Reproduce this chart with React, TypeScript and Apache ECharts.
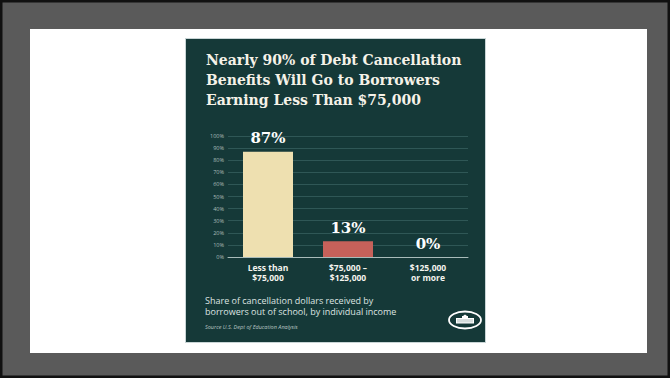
import React, { useEffect, useRef } from "react";
import * as echarts from "echarts";

const categories = ["Less than\n$75,000", "$75,000 –\n$125,000", "$125,000\nor more"];
const shares = [87, 13, 0];
const barColors = ["#eee0b0", "#c6615a", "#c6615a"];
const yTicks = [0, 10, 20, 30, 40, 50, 60, 70, 80, 90, 100];
const titleLines = [
  "Nearly 90% of Debt Cancellation",
  "Benefits Will Go to Borrowers",
  "Earning Less Than $75,000",
];
const subtitleLines = [
  "Share of cancellation dollars received by",
  "borrowers out of school, by individual income",
];
const sourceText = "Source U.S. Dept of Education Analysis";

export default function App() {
  const ref = useRef<HTMLDivElement>(null);
  useEffect(() => {
    if (!ref.current) return;
    const chart = echarts.init(ref.current, null, { renderer: "svg" });
    const sans = "'Open Sans', 'Noto Sans', sans-serif";
    const serif = "'DejaVu Serif', 'Liberation Serif', serif";
    const graphics: any[] = [
      { type: "rect", z: -100, shape: { x: 1, y: 1, width: 668, height: 376 }, style: { fill: "#5a5a5a", stroke: "#111", lineWidth: 3 } },
      { type: "rect", z: -99, shape: { x: 30, y: 29, width: 617, height: 324 }, style: { fill: "#ffffff" } },
      { type: "rect", z: -98, shape: { x: 185.5, y: 38.5, width: 300, height: 304 }, style: { fill: "#153938", stroke: "#c9d5d6", lineWidth: 1 } },
    ];
    titleLines.forEach((t, i) => {
      graphics.push({
        type: "text", z: 10, x: 206, y: 67 + i * 20,
        style: { text: t, fill: "#f5f2e8", font: `bold 14px ${serif}`, textVerticalAlign: "bottom" },
      });
    });
    subtitleLines.forEach((t, i) => {
      graphics.push({
        type: "text", z: 10, x: 205, y: 300 + i * 11.5,
        style: { text: t, fill: "#dde3e1", font: `9px ${sans}`, textVerticalAlign: "middle" },
      });
    });
    graphics.push({
      type: "text", z: 10, x: 205, y: 327,
      style: { text: sourceText, fill: "#b9c6c4", font: `italic 5.5px ${sans}`, textVerticalAlign: "middle" },
    });
    // White House logo
    graphics.push({
      type: "group", z: 10, x: 465, y: 320,
      children: [
        { type: "ellipse", shape: { cx: 0, cy: 0, rx: 16, ry: 8.5 }, style: { fill: "none", stroke: "#ffffff", lineWidth: 1.8 } },
        { type: "rect", shape: { x: -9, y: -2, width: 18, height: 5.5 }, style: { fill: "#ffffff" } },
        { type: "rect", shape: { x: -3, y: -4, width: 6, height: 2 }, style: { fill: "#ffffff" } },
        { type: "polygon", shape: { points: [[-2, -4], [0, -5.5], [2, -4]] }, style: { fill: "#ffffff" } },
        ...[-7, -5, -3, -1, 1, 3, 5, 7].map((cx) => ({
          type: "rect", shape: { x: cx - 0.35, y: -1, width: 0.7, height: 3.5 }, style: { fill: "#8aa09e" },
        })),
      ],
    });

    chart.setOption({
      animation: false,
      backgroundColor: "#5a5a5a",
      grid: { left: 228, right: 202, top: 136, bottom: 121, containLabel: false },
      xAxis: {
        type: "category",
        data: categories,
        axisLine: { lineStyle: { color: "#a9bcba", width: 1 } },
        axisTick: { show: false },
        axisLabel: { color: "#f4f4ee", fontFamily: sans, fontWeight: "bold", fontSize: 8.5, lineHeight: 10, margin: 5 },
      },
      yAxis: {
        type: "value",
        min: 0, max: 100, interval: 10,
        axisLine: { show: false },
        axisTick: { show: false },
        splitLine: { lineStyle: { color: "#2f5756", width: 1 } },
        axisLabel: { color: "#aebcba", fontFamily: sans, fontSize: 5.5, margin: 4, formatter: (v: number) => (yTicks.includes(v) ? `${v}%` : "") },
      },
      series: [
        {
          type: "bar",
          data: shares.map((v, i) => ({ value: v, itemStyle: { color: barColors[i] } })),
          barWidth: 50,
          label: {
            show: true, position: "top", distance: 6,
            formatter: "{c}%", color: "#ffffff", fontFamily: serif, fontWeight: "bold", fontSize: 15,
          },
        },
      ],
      graphic: graphics,
    });
    return () => chart.dispose();
  }, []);
  return <div ref={ref} style={{ position: "fixed", left: 0, top: 0, width: 670, height: 378 }} />;
}
